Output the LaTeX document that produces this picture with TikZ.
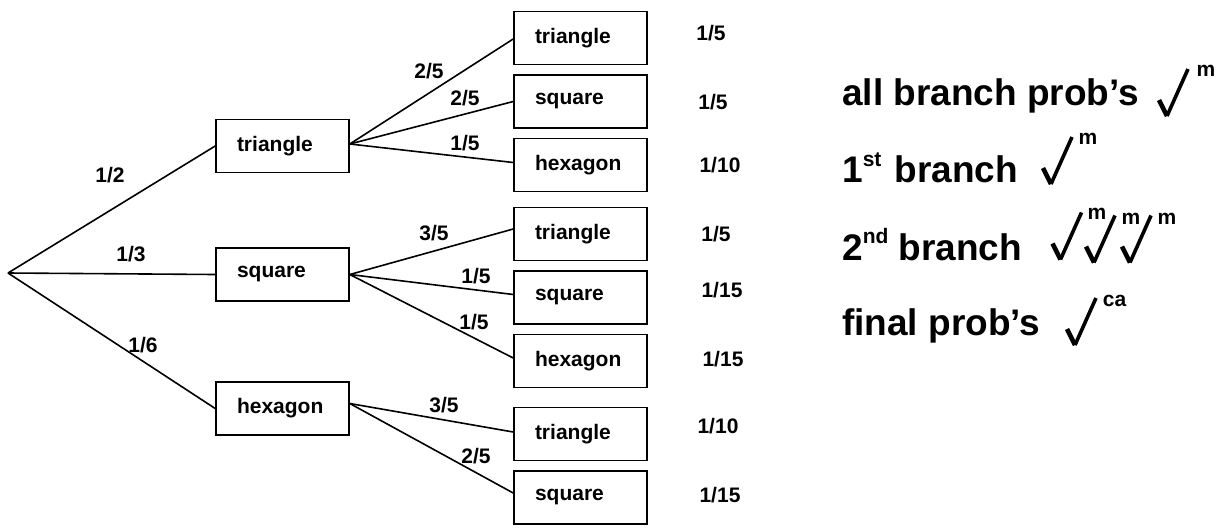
\documentclass[tikz,border=0pt]{standalone}
\usepackage{fontspec}
\setmainfont{Liberation Sans}
\newcommand\lblfont{\fontsize{21}{25}\selectfont\bfseries}
\newcommand\bigfont{\fontsize{37}{44}\selectfont\bfseries}
\begin{document}
\begin{tikzpicture}[x=1pt,y=-1pt,
  box/.style={draw, line width=1.6pt, minimum height=53pt, text width=91pt,
    inner xsep=21pt, inner ysep=0pt, align=left, font=\lblfont},
  prob/.style={font=\lblfont, inner sep=0pt},
  branch/.style={line width=1.6pt},
  note/.style={font=\bigfont, inner sep=0pt, anchor=base west},
  sup/.style={font=\lblfont, inner sep=0pt},
  tick/.pic={
    \draw[line width=3.6pt, line cap=butt] (0,1) -- (21,-46);
    \draw[line width=4.6pt, line cap=butt] (-8,-15) -- (0,1);
  }]
\useasboundingbox (0,0) rectangle (1226,528);

% root
\coordinate (root) at (8,273);

% first level
\node[box] (t1) at (282.5,146) {triangle};
\node[box] (s1) at (282.5,274.5) {square};
\node[box] (h1) at (282.5,408.5) {hexagon};

% second level
\node[box] (tt) at (580.5,38) {triangle};
\node[box] (ts) at (580.5,101.5) {square};
\node[box] (th) at (580.5,165) {hexagon};
\node[box] (st) at (580.5,234) {triangle};
\node[box] (ss) at (580.5,297.5) {square};
\node[box] (sh) at (580.5,361) {hexagon};
\node[box] (ht) at (580.5,434) {triangle};
\node[box] (hs) at (580.5,497.5) {square};

% branches
\draw[branch] (root) -- (t1.west);
\draw[branch] (root) -- (s1.west);
\draw[branch] (root) -- (h1.west);

\draw[branch] ([yshift=2pt]t1.east) -- ([yshift=-1pt]tt.west);
\draw[branch] ([yshift=2pt]t1.east) -- (ts.west);
\draw[branch] ([yshift=2pt]t1.east) -- ([yshift=2.5pt]th.west);
\draw[branch] (s1.east) -- ([yshift=5pt]st.west);
\draw[branch] (s1.east) -- ([yshift=3pt]ss.west);
\draw[branch] (s1.east) -- ([yshift=3pt]sh.west);
\draw[branch] ([yshift=5pt]h1.east) -- ([yshift=2pt]ht.west);
\draw[branch] ([yshift=5pt]h1.east) -- ([yshift=4.5pt]hs.west);

% branch probabilities
\node[prob] (p1) at (110,175) {1/2};
\node[prob] (p2) at (131,254) {1/3};
\node[prob] (p3) at (143,345) {1/6};
\node[prob] (ptt) at (429,71) {2/5};
\node[prob] (pts) at (465,98) {2/5};
\node[prob] (pth) at (465,143) {1/5};
\node[prob] (pst) at (434,233) {3/5};
\node[prob] (pss) at (476,276) {1/5};
\node[prob] (psh) at (474,322) {1/5};
\node[prob] (pht) at (444,405) {3/5};
\node[prob] (phs) at (476,456) {2/5};

% final probabilities
\node[prob] (ftt) at (711,33) {1/5};
\node[prob] (fts) at (713,102) {1/5};
\node[prob] (fth) at (720,165) {1/10};
\node[prob] (fst) at (716,234) {1/5};
\node[prob] (fss) at (722,290) {1/15};
\node[prob] (fsh) at (723,359) {1/15};
\node[prob] (fht) at (718,426) {1/10};
\node[prob] (fhs) at (720,495) {1/15};

% marking notes
\node[note] (n1) at (842,105) {all branch prob’s};
\node[note] (n2) at (842,182) {1\raisebox{16pt}{\lblfont st}\hspace{13pt}branch};
\node[note] (n3) at (842,260) {2\raisebox{17pt}{\lblfont nd} branch};
\node[note] (n4) at (842,335) {final prob’s};

\pic at (1167,115) {tick};
\node[sup] (m1) at (1206,71) {m};

\pic at (1051,183) {tick};
\node[sup] (m2) at (1088,138.5) {m};

\pic at (1060.5,258.5) {tick};
\node[sup] (m3) at (1097,214) {m};
\pic at (1094,261.5) {tick};
\node[sup] (m4) at (1131,219) {m};
\pic at (1130,261.5) {tick};
\node[sup] (m5) at (1167,219) {m};

\pic at (1075,344) {tick};
\node[sup] (ca) at (1114.5,301) {ca};
\end{tikzpicture}
\end{document}
